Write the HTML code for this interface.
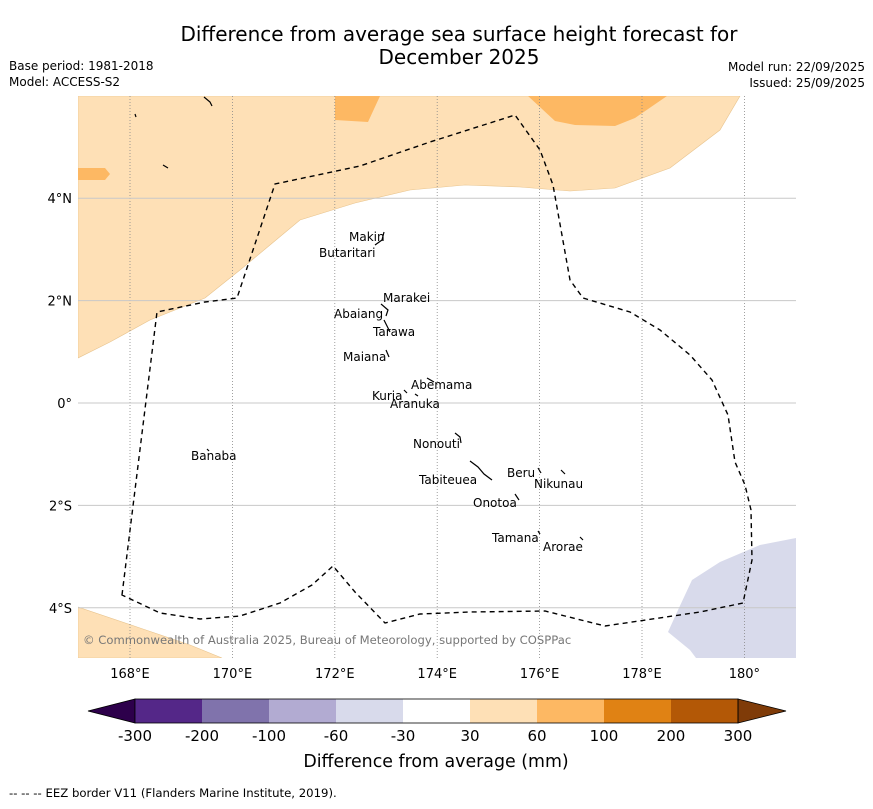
<!DOCTYPE html>
<html><head><meta charset="utf-8"><style>
body{margin:0;background:#fff;font-family:"Liberation Sans","DejaVu Sans",sans-serif}
svg text{font-family:"DejaVu Sans","Liberation Sans",sans-serif}
</style></head><body>
<svg width="873" height="804" viewBox="0 0 873 804">
<text x="459" y="41" font-size="20" text-anchor="middle">Difference from average sea surface height forecast for</text>
<text x="459" y="64" font-size="20" text-anchor="middle">December 2025</text>
<text x="9" y="70" font-size="12">Base period: 1981-2018</text>
<text x="9" y="86" font-size="12">Model: ACCESS-S2</text>
<text x="865" y="71" font-size="12" text-anchor="end">Model run: 22/09/2025</text>
<text x="865" y="87" font-size="12" text-anchor="end">Issued: 25/09/2025</text>
<defs><clipPath id="mc"><rect x="78" y="96" width="718" height="562"/></clipPath></defs>
<g clip-path="url(#mc)">
<path d="M78,96 L740,96 L720,130 L670,168 L615,188 L570,191 L520,187 L465,185 L410,190 L355,203 L300,220 L270,245 L240,270 L205,298 L150,320 L110,342 L78,358 Z" fill="#fee0b6" stroke="#e8c48e" stroke-width="0.6"/>
<path d="M78,607 L140,628 L190,645 L222,658 L78,658 Z" fill="#fee0b6" stroke="#e8c48e" stroke-width="0.6"/>
<path d="M335,96 L380,96 L368,122 L335,120 Z" fill="#fdb863"/>
<path d="M528,96 L667,96 L635,118 L615,126 L575,125 L555,121 Z" fill="#fdb863"/>
<path d="M78,168 L105,168 L110,174 L105,180 L78,180 Z" fill="#fdb863"/>
<path d="M796,538 L760,545 L720,562 L692,580 L678,610 L668,632 L690,650 L696,658 L796,658 Z" fill="#d8daeb"/>
</g>
<g id="grid"></g>
<path d="M122,595 L157,312 L205,302 L237,298 L275,184 L360,166 L430,142 L515,115 L540,150 L553,185 L570,280 L583,298 L630,312 L660,330 L690,355 L712,380 L728,415 L735,462 L745,485 L751,510 L752,560 L743,603 L700,612 L605,626 L545,611 L470,612 L420,614 L385,623 L355,592 L333,566 L312,585 L280,603 L240,616 L200,619 L160,613 Z" fill="none" stroke="#000" stroke-width="1.4" stroke-dasharray="5,4"/>
<g font-size="12">
<text x="349" y="241">Makin</text><text x="319" y="257">Butaritari</text>
<text x="383" y="302">Marakei</text><text x="334" y="318">Abaiang</text>
<text x="373" y="336">Tarawa</text><text x="343" y="361">Maiana</text>
<text x="411" y="389">Abemama</text><text x="372" y="400">Kuria</text>
<text x="390" y="408">Aranuka</text><text x="413" y="448">Nonouti</text>
<text x="191" y="460">Banaba</text><text x="507" y="477">Beru</text>
<text x="534" y="488">Nikunau</text><text x="419" y="484">Tabiteuea</text>
<text x="473" y="507">Onotoa</text><text x="492" y="542">Tamana</text>
<text x="543" y="551">Arorae</text>
</g>
<g stroke="#000" stroke-width="1.2" fill="none">
<path d="M384,232 L382,240 L375,245"/><path d="M381,304 L388,310 L386,316"/><path d="M384,320 L390,332"/>
<path d="M386,350 L389,357"/><path d="M427,378 L434,382"/><path d="M404,390 L407,393 M415,394 L418,396"/>
<path d="M455,433 L460,437 L461,443"/><path d="M470,461 L478,467 L484,474 L492,480"/>
<path d="M538,468 L541,473 M561,470 L565,474"/><path d="M515,494 L519,500"/><path d="M538,531 L540,534 M580,537 L583,540"/>
<path d="M207,449 L209,451"/><path d="M135,114 L136,117 M163,165 L168,168 M204,97 L210,102 L212,106"/>
</g>
<text x="83" y="644" font-size="11.6" fill="#777">© Commonwealth of Australia 2025, Bureau of Meteorology, supported by COSPPac</text>
<g id="axes" font-size="13"></g>
<g id="cbar"></g>
<text x="436" y="767" font-size="17.4" text-anchor="middle">Difference from average (mm)</text>
<text x="9" y="797" font-size="11.7">-- -- -- EEZ border V11 (Flanders Marine Institute, 2019).</text>
</svg>
<script>
const lonTicks=[168,170,172,174,176,178,180];
const lonLabels=["168°E","170°E","172°E","174°E","176°E","178°E","180°"];
const latTicks=[4,2,0,-2,-4];
const latLabels=["4°N","2°N","0°","2°S","4°S"];
const levelLabels=["-300","-200","-100","-60","-30","30","60","100","200","300"];
const binColors=["#542788","#8073ac","#b2abd2","#d8daeb","#ffffff","#fee0b6","#fdb863","#e08214","#b35806"];
const NS="http://www.w3.org/2000/svg";
const X=lon=>130+(lon-168)*51.2, Y=lat=>403-lat*51.2;
function mk(t,a,p){const e=document.createElementNS(NS,t);for(const k in a)e.setAttribute(k,a[k]);p.appendChild(e);return e;}
const grid=document.getElementById('grid'),axes=document.getElementById('axes'),cb=document.getElementById('cbar');
lonTicks.forEach((v,i)=>{
 const l=mk('line',{x1:X(v),x2:X(v),y1:96,y2:658,stroke:'#888','stroke-width':0.8,'stroke-dasharray':'1,2'},grid);
 
 
 const t=mk('text',{x:X(v),y:678,'text-anchor':'middle'},axes);t.textContent=lonLabels[i];
 
 
});
latTicks.forEach((v,i)=>{
 const l=mk('line',{x1:78,x2:796,y1:Y(v),y2:Y(v),stroke:'#c8c8c8','stroke-width':1},grid);
 
 
 const t=mk('text',{x:72,y:Y(v)+5,'text-anchor':'end'},axes);t.textContent=latLabels[i];
 
 
});
const cx0=135,cw=67,cy=699,ch=24;
let p=mk('path',{d:`M${cx0},${cy} L88,${cy+ch/2} L${cx0},${cy+ch} Z`,fill:'#2d004b',stroke:'#000','stroke-width':0.8},cb);


binColors.forEach((c,i)=>{
 const r=mk('rect',{x:cx0+i*cw,y:cy,width:cw,height:ch,fill:c},cb);
 
 
});
const xe=cx0+binColors.length*cw;
p=mk('path',{d:`M${xe},${cy} L786,${cy+ch/2} L${xe},${cy+ch} Z`,fill:'#7f3b08',stroke:'#000','stroke-width':0.8},cb);


mk('rect',{x:cx0,y:cy,width:xe-cx0,height:ch,fill:'none',stroke:'#000','stroke-width':0.8},cb);
levelLabels.forEach((s,i)=>{
 const t=mk('text',{x:cx0+i*cw,y:741,'font-size':15,'text-anchor':'middle'},cb);t.textContent=s;
 
 
});
</script>
</body></html>
